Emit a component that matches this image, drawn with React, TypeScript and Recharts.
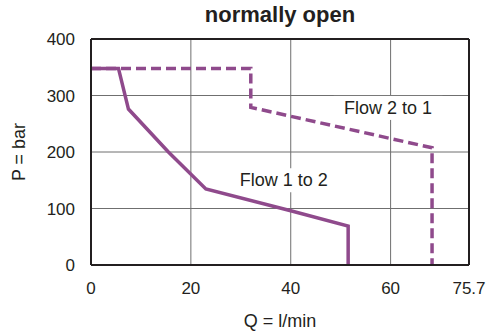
import { CartesianGrid, Label, Line, LineChart, ReferenceDot, ReferenceLine, XAxis, YAxis } from "recharts"

// flow (l/min) vs pressure (bar)
const flow12Q = [0, 5.5, 7.5, 15.5, 23, 40, 51.5, 51.5]
const flow12P = [348, 348, 276, 200, 134.5, 96, 69, 0]
const flow21Q = [0, 32, 32, 68.3, 68.3]
const flow21P = [348, 348, 279, 207.5, 0]

const xTicks = [0, 20, 40, 60, 75.7]
const yTicks = [0, 100, 200, 300, 400]

const flow12 = flow12Q.map((q, i) => ({ q, p: flow12P[i] }))
const flow21 = flow21Q.map((q, i) => ({ q, p: flow21P[i] }))

const INK = "#231f20"
const PURPLE = "#8f4a8c"
const FONT = "'Liberation Sans', Arial, sans-serif"

function BoxLabel({ viewBox, text }: any) {
  const cx = viewBox?.cx ?? viewBox?.x
  const cy = viewBox?.cy ?? viewBox?.y
  const w = text.length * 9 + 10
  return (
    <g>
      <rect x={cx - w / 2} y={cy - 12} width={w} height={24} fill="#fff" />
      <text x={cx} y={cy} textAnchor="middle" dominantBaseline="central" fontSize={18} fill={INK} fontFamily={FONT}>
        {text}
      </text>
    </g>
  )
}

export default function App() {
  return (
    <div style={{ position: "absolute", left: 0, top: 0, width: 492, height: 334, background: "#fff", fontFamily: FONT }}>
      <div style={{ position: "absolute", left: 91, width: 378, top: 2, textAlign: "center", fontWeight: "bold", fontSize: 22, color: INK }}>
        normally open
      </div>
      <LineChart width={492} height={334} margin={{ top: 39, right: 23, left: 0, bottom: 0 }}>
        <CartesianGrid stroke="#6f6f6f" strokeWidth={1} />
        <XAxis
          type="number"
          dataKey="q"
          domain={[0, 75.7]}
          ticks={xTicks}
          allowDataOverflow
          height={69}
          tickSize={0}
          tickMargin={17}
          tick={{ fill: INK, fontSize: 17, fontFamily: FONT }}
          axisLine={{ stroke: INK, strokeWidth: 2 }}
        >
          <Label value="Q = l/min" position="insideBottom" offset={7} fill={INK} fontSize={18} fontFamily={FONT} />
        </XAxis>
        <YAxis
          type="number"
          dataKey="p"
          domain={[0, 400]}
          ticks={yTicks}
          width={91}
          tickSize={0}
          tickMargin={16}
          tick={{ fill: INK, fontSize: 17, fontFamily: FONT }}
          axisLine={{ stroke: INK, strokeWidth: 2 }}
        >
          <Label value="P = bar" angle={-90} position="insideLeft" offset={19} fill={INK} fontSize={18} fontFamily={FONT} style={{ textAnchor: "middle" }} />
        </YAxis>
        <ReferenceLine y={400} stroke={INK} strokeWidth={2} />
        <ReferenceLine x={75.7} stroke={INK} strokeWidth={2} />
        <ReferenceDot x={59.5} y={278} r={0} label={<BoxLabel text="Flow 2 to 1" />} />
        <ReferenceDot x={38.6} y={150} r={0} label={<BoxLabel text="Flow 1 to 2" />} />
        <Line
          data={flow21}
          dataKey="p"
          type="linear"
          stroke={PURPLE}
          strokeWidth={3.5}
          strokeDasharray="10 5"
          dot={false}
          isAnimationActive={false}
        />
        <Line
          data={flow12}
          dataKey="p"
          type="linear"
          stroke={PURPLE}
          strokeWidth={3.5}
          dot={false}
          isAnimationActive={false}
        />
      </LineChart>
    </div>
  )
}
